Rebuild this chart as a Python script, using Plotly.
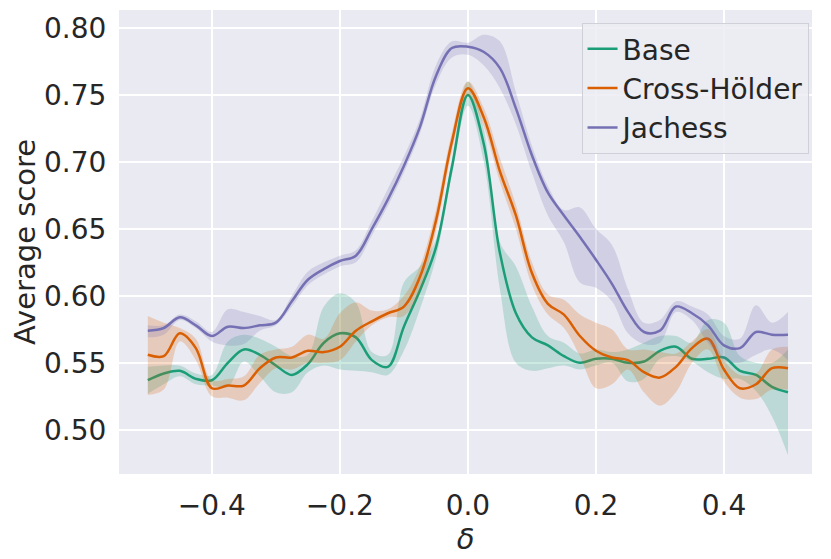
import plotly.graph_objects as go

# valores de delta (eje x)
delta = [-0.5, -0.475, -0.45, -0.425, -0.4, -0.375, -0.35, -0.325, -0.3, -0.275,
         -0.25, -0.225, -0.2, -0.175, -0.15, -0.125, -0.1, -0.075, -0.05, -0.025,
         0.0, 0.025, 0.05, 0.075, 0.1, 0.125, 0.15, 0.175, 0.2, 0.225,
         0.25, 0.275, 0.3, 0.325, 0.35, 0.375, 0.4, 0.425, 0.45, 0.475, 0.5]

# Base
base_media = [0.537, 0.542, 0.544, 0.538, 0.537, 0.550, 0.560, 0.556, 0.548, 0.541,
              0.549, 0.565, 0.572, 0.569, 0.552, 0.547, 0.577, 0.604, 0.636, 0.696,
              0.750, 0.713, 0.632, 0.587, 0.569, 0.563, 0.555, 0.550, 0.553, 0.553,
              0.550, 0.551, 0.559, 0.562, 0.553, 0.553, 0.554, 0.544, 0.541, 0.532, 0.528]
base_inf = [0.527, 0.534, 0.540, 0.534, 0.533, 0.532, 0.551, 0.540, 0.528, 0.528,
            0.543, 0.548, 0.545, 0.544, 0.543, 0.541, 0.559, 0.590, 0.628, 0.690,
            0.742, 0.700, 0.605, 0.550, 0.544, 0.546, 0.548, 0.545, 0.548, 0.550,
            0.536, 0.538, 0.553, 0.555, 0.551, 0.543, 0.538, 0.538, 0.529, 0.510, 0.481]
base_sup = [0.547, 0.548, 0.548, 0.542, 0.541, 0.566, 0.571, 0.568, 0.562, 0.555,
            0.556, 0.592, 0.602, 0.595, 0.558, 0.556, 0.610, 0.622, 0.642, 0.702,
            0.760, 0.724, 0.640, 0.622, 0.592, 0.570, 0.565, 0.557, 0.560, 0.558,
            0.560, 0.565, 0.570, 0.570, 0.565, 0.582, 0.580, 0.555, 0.550, 0.550, 0.560]

# Cross-Hölder
cross_media = [0.556, 0.555, 0.572, 0.561, 0.531, 0.533, 0.533, 0.546, 0.554, 0.554,
               0.559, 0.558, 0.562, 0.574, 0.581, 0.587, 0.592, 0.614, 0.656, 0.715,
               0.755, 0.733, 0.693, 0.660, 0.617, 0.594, 0.586, 0.570, 0.559, 0.554,
               0.552, 0.543, 0.539, 0.547, 0.561, 0.568, 0.545, 0.531, 0.534, 0.546, 0.546]
cross_inf = [0.526, 0.530, 0.566, 0.552, 0.525, 0.524, 0.522, 0.535, 0.546, 0.545,
             0.550, 0.550, 0.552, 0.566, 0.578, 0.584, 0.585, 0.604, 0.648, 0.708,
             0.750, 0.726, 0.685, 0.650, 0.608, 0.586, 0.576, 0.555, 0.531, 0.534,
             0.545, 0.528, 0.518, 0.528, 0.550, 0.560, 0.536, 0.524, 0.523, 0.530, 0.530]
cross_sup = [0.585, 0.580, 0.576, 0.568, 0.537, 0.538, 0.540, 0.556, 0.560, 0.562,
             0.571, 0.568, 0.587, 0.595, 0.589, 0.590, 0.600, 0.622, 0.664, 0.722,
             0.760, 0.740, 0.703, 0.668, 0.625, 0.601, 0.597, 0.586, 0.580, 0.575,
             0.560, 0.560, 0.558, 0.557, 0.566, 0.575, 0.552, 0.541, 0.542, 0.560, 0.562]

# Jachess
jac_media = [0.574, 0.576, 0.584, 0.578, 0.570, 0.577, 0.576, 0.578, 0.580, 0.596,
             0.612, 0.620, 0.626, 0.630, 0.650, 0.672, 0.697, 0.726, 0.764, 0.785,
             0.786, 0.782, 0.770, 0.740, 0.705, 0.677, 0.660, 0.644, 0.627, 0.609,
             0.588, 0.573, 0.574, 0.592, 0.587, 0.578, 0.563, 0.561, 0.573, 0.571, 0.571]
jac_inf = [0.569, 0.571, 0.582, 0.576, 0.566, 0.563, 0.564, 0.574, 0.578, 0.592,
           0.608, 0.616, 0.622, 0.625, 0.645, 0.667, 0.692, 0.721, 0.758, 0.778,
           0.780, 0.772, 0.755, 0.728, 0.692, 0.660, 0.640, 0.610, 0.606, 0.596,
           0.572, 0.564, 0.565, 0.588, 0.582, 0.565, 0.552, 0.550, 0.556, 0.560, 0.552]
jac_sup = [0.578, 0.578, 0.586, 0.581, 0.573, 0.590, 0.588, 0.585, 0.582, 0.600,
           0.618, 0.625, 0.630, 0.634, 0.656, 0.680, 0.704, 0.732, 0.772, 0.790,
           0.789, 0.795, 0.790, 0.752, 0.712, 0.682, 0.664, 0.666, 0.650, 0.638,
           0.605, 0.580, 0.582, 0.596, 0.592, 0.586, 0.570, 0.568, 0.593, 0.580, 0.588]

y_ticks = [0.50, 0.55, 0.60, 0.65, 0.70, 0.75, 0.80]
x_ticks = [-0.4, -0.2, 0.0, 0.2, 0.4]
x_ticktext = ['\u22120.4', '\u22120.2', '0.0', '0.2', '0.4']

series = [
    ('Base', base_media, base_inf, base_sup, '#1b9e77', 'rgba(27,158,119,0.22)'),
    ('Cross-Hölder', cross_media, cross_inf, cross_sup, '#d95f02', 'rgba(217,95,2,0.22)'),
    ('Jachess', jac_media, jac_inf, jac_sup, '#7570b3', 'rgba(117,112,179,0.22)'),
]

fig = go.Figure()

for nombre, media, inf, sup, color, relleno in series:
    # banda de confianza
    fig.add_trace(go.Scatter(x=delta, y=inf, mode='lines', line=dict(width=0, shape='spline'),
                             showlegend=False, hoverinfo='skip'))
    fig.add_trace(go.Scatter(x=delta, y=sup, mode='lines', line=dict(width=0, shape='spline'),
                             fill='tonexty', fillcolor=relleno, showlegend=False, hoverinfo='skip'))
    # linea media
    fig.add_trace(go.Scatter(x=delta, y=media, mode='lines', name=nombre,
                             line=dict(color=color, width=2.5, shape='spline')))

# la pagina tiene 8px de margen en el body, por eso 823x551
fig.update_layout(
    width=823, height=551,
    paper_bgcolor='white',
    plot_bgcolor='#EAEAF2',
    font=dict(family='DejaVu Sans', size=28, color='#262626'),
    margin=dict(l=111, r=19, t=2, b=85),
    legend=dict(x=0.995, y=0.972, xanchor='right', yanchor='top', traceorder='normal',
                bgcolor='rgba(236,236,243,0.85)', bordercolor='#D0D0D8', borderwidth=1,
                font=dict(size=28), tracegroupgap=0),
)
fig.update_xaxes(
    range=[-0.545, 0.5375], tickvals=x_ticks, ticktext=x_ticktext, automargin=False,
    showgrid=True, gridcolor='white', gridwidth=1.5, zeroline=False, showline=False,
    ticks='outside', ticklen=6, tickcolor='rgba(0,0,0,0)',
    title=dict(text='<i>δ</i>', font=dict(size=29), standoff=0),
)
fig.update_yaxes(
    range=[0.467, 0.8134], tickvals=y_ticks, tickformat='.2f', automargin=False,
    showgrid=True, gridcolor='white', gridwidth=1.5, zeroline=False, showline=False,
    ticks='outside', ticklen=6, tickcolor='rgba(0,0,0,0)',
    title=dict(text='Average score', font=dict(size=29), standoff=4),
)

fig.write_html('out.html')
